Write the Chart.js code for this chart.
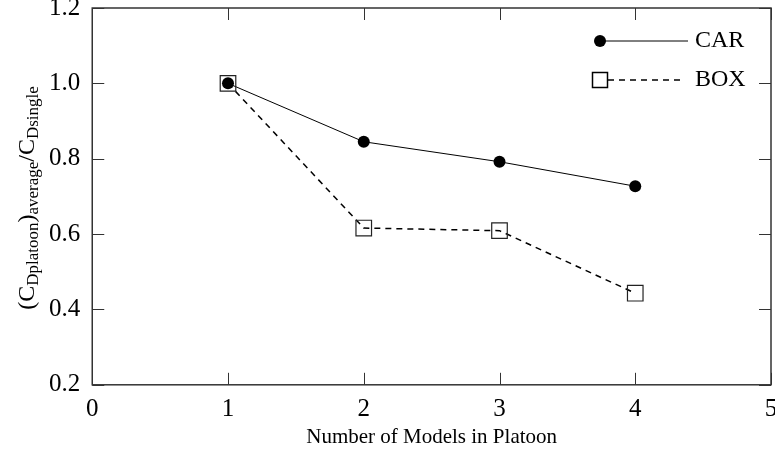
<!DOCTYPE html>
<html>
<head>
<meta charset="utf-8">
<script src="https://cdn.jsdelivr.net/npm/chart.js@4.4.0/dist/chart.umd.min.js"></script>
<style>
  html, body { margin: 0; padding: 0; background: #fff; }
  #wrap { width: 775px; height: 457px; }
</style>
</head>
<body>
<div id="wrap"><canvas id="platoonChart"></canvas></div>
<script>
const modelCounts = [1, 2, 3, 4];
const carValues = [1.0, 0.845, 0.792, 0.727];
const boxValues = [1.0, 0.616, 0.609, 0.443];
const xTicks = [0, 1, 2, 3, 4, 5];
const yTicks = [0.2, 0.4, 0.6, 0.8, 1.0, 1.2];

const FONT = "'Liberation Serif', 'Times New Roman', serif";

function toPoints(xs, ys) {
    return xs.map((x, i) => ({ x: x, y: ys[i] }));
}

// ticks pointing into the plot, on all four sides
const innerTicks = {
    id: "innerTicks",
    afterDraw(chart) {
        const { ctx, chartArea: a, scales } = chart;
        const len = 12;
        ctx.save();
        ctx.strokeStyle = "#333";
        ctx.lineWidth = 1;
        xTicks.forEach((v) => {
            const px = Math.round(scales.x.getPixelForValue(v)) + 0.5;
            ctx.beginPath();
            ctx.moveTo(px, a.bottom); ctx.lineTo(px, a.bottom - len);
            ctx.moveTo(px, a.top); ctx.lineTo(px, a.top + len);
            ctx.stroke();
        });
        yTicks.forEach((v) => {
            const py = Math.round(scales.y.getPixelForValue(v)) + 0.5;
            ctx.beginPath();
            ctx.moveTo(a.left, py); ctx.lineTo(a.left + len, py);
            ctx.moveTo(a.right, py); ctx.lineTo(a.right - len, py);
            ctx.stroke();
        });
        ctx.lineWidth = 1.5;
        ctx.strokeRect(a.left, a.top, a.right - a.left, a.bottom - a.top);
        ctx.restore();
    },
};

// y axis title with subscripts
const yTitle = {
    id: "yTitle",
    afterDraw(chart) {
        const { ctx } = chart;
        const big = "24px " + FONT;
        const small = "17px " + FONT;
        const parts = [
            ["(C", big, 0],
            ["Dplatoon", small, 6],
            [")", big, 0],
            ["average", small, 6],
            ["/C", big, 0],
            ["Dsingle", small, 6],
        ];
        ctx.save();
        let total = 0;
        parts.forEach((p) => { ctx.font = p[1]; total += ctx.measureText(p[0]).width; });
        ctx.translate(28, 198);
        ctx.rotate(-Math.PI / 2);
        ctx.fillStyle = "#000";
        ctx.textBaseline = "middle";
        let x = -total / 2;
        parts.forEach((p) => {
            ctx.font = p[1];
            ctx.fillText(p[0], x, p[2]);
            x += ctx.measureText(p[0]).width;
        });
        ctx.restore();
    },
};

// legend in the top right corner of the plot
const cornerLegend = {
    id: "cornerLegend",
    afterDraw(chart) {
        const { ctx, chartArea: a } = chart;
        const mx = a.right - 171;
        const y1 = a.top + 33;
        const y2 = a.top + 72;
        ctx.save();
        ctx.strokeStyle = "#000";
        ctx.fillStyle = "#000";
        // CAR
        ctx.lineWidth = 1;
        ctx.beginPath();
        ctx.moveTo(mx, y1); ctx.lineTo(mx + 88, y1);
        ctx.stroke();
        ctx.beginPath();
        ctx.arc(mx, y1, 6, 0, Math.PI * 2);
        ctx.fill();
        // BOX
        ctx.lineWidth = 1.5;
        ctx.setLineDash([6, 5]);
        ctx.beginPath();
        ctx.moveTo(mx + 8, y2); ctx.lineTo(mx + 84, y2);
        ctx.stroke();
        ctx.setLineDash([]);
        ctx.strokeRect(mx - 7.5, y2 - 7.5, 15, 15);
        ctx.font = "24px " + FONT;
        ctx.textBaseline = "middle";
        ctx.fillText("CAR", mx + 95, y1);
        ctx.fillText("BOX", mx + 95, y2);
        ctx.restore();
    },
};

const ctx = document.getElementById("platoonChart").getContext("2d");

new Chart(ctx, {
    type: "line",
    data: {
        datasets: [
            {
                label: "BOX",
                data: toPoints(modelCounts, boxValues),
                borderColor: "#000",
                borderWidth: 1.5,
                borderDash: [6, 5],
                pointStyle: "rect",
                pointRadius: 11,
                pointBorderWidth: 1.2,
                pointBorderColor: "#222",
                pointBackgroundColor: "rgba(0,0,0,0)",
                tension: 0,
                fill: false,
            },
            {
                label: "CAR",
                data: toPoints(modelCounts, carValues),
                borderColor: "#000",
                borderWidth: 1,
                pointStyle: "circle",
                pointRadius: 6,
                pointBorderWidth: 0,
                pointBackgroundColor: "#000",
                tension: 0,
                fill: false,
            },
        ],
    },
    options: {
        responsive: true,
        maintainAspectRatio: false,
        animation: false,
        layout: { autoPadding: false, padding: { left: 37, right: 4, top: 8, bottom: 7 } },
        plugins: {
            legend: { display: false },
            tooltip: { enabled: false },
        },
        scales: {
            x: {
                type: "linear",
                min: 0,
                max: 5,
                afterBuildTicks: (axis) => { axis.ticks = xTicks.map((v) => ({ value: v })); },
                afterFit: (axis) => { axis.paddingLeft = 0; axis.paddingRight = 0; },
                grid: { display: false, drawTicks: false },
                border: { display: false },
                ticks: {
                    color: "#000",
                    padding: 0,
                    font: { family: FONT, size: 25, lineHeight: 2.0 },
                    callback: (v) => String(v),
                },
                title: {
                    display: true,
                    text: "Number of Models in Platoon",
                    color: "#000",
                    font: { family: FONT, size: 21 },
                    padding: { top: -10, bottom: 0 },
                },
            },
            y: {
                min: 0.2,
                max: 1.2,
                afterBuildTicks: (axis) => { axis.ticks = yTicks.map((v) => ({ value: v })); },
                afterFit: (axis) => { axis.paddingTop = 0; axis.paddingBottom = 0; },
                grid: { display: false, drawTicks: false },
                border: { display: false },
                ticks: {
                    color: "#000",
                    padding: 12,
                    font: { family: FONT, size: 25, lineHeight: 0.3 },
                    callback: (v) => Number(v).toFixed(1),
                },
            },
        },
    },
    plugins: [innerTicks, yTitle, cornerLegend],
});
</script>
</body>
</html>
